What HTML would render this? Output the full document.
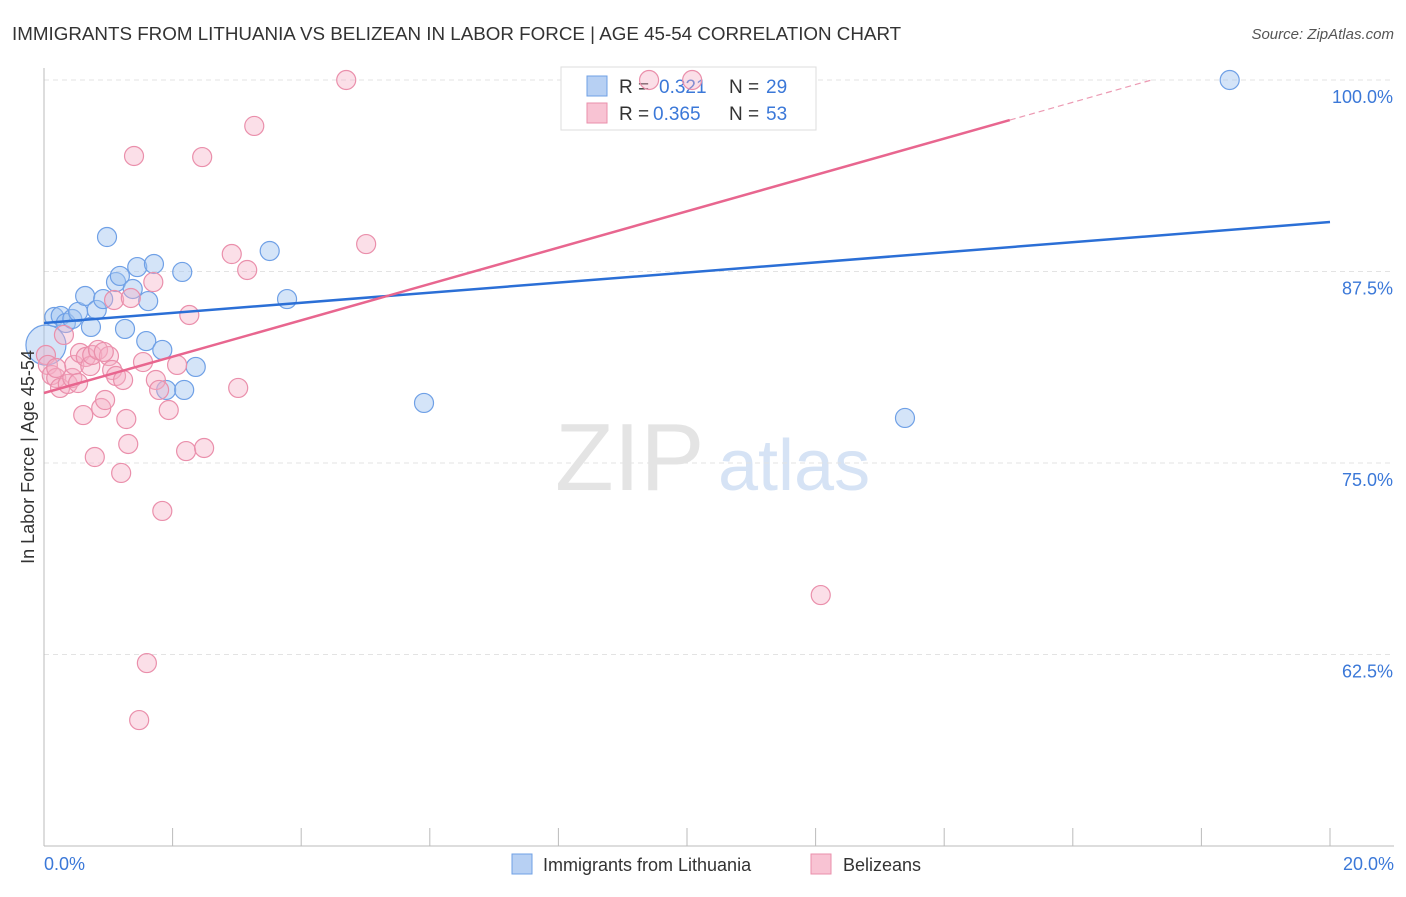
<!DOCTYPE html>
<html><head><meta charset="utf-8"><style>
body{margin:0;background:#fff;font-family:"Liberation Sans",sans-serif;}
svg text{font-family:"Liberation Sans",sans-serif;}
</style></head><body>
<svg id="chart" width="1406" height="892">
<text x="12" y="40" font-size="18.8" fill="#333">IMMIGRANTS FROM LITHUANIA VS BELIZEAN IN LABOR FORCE | AGE 45-54 CORRELATION CHART</text>
<text x="1394" y="39" font-size="15" fill="#555" text-anchor="end" font-style="italic">Source: ZipAtlas.com</text>
<text x="555" y="490" font-size="96" fill="#e4e4e4" font-family="Liberation Serif">ZIP</text>
<text x="718" y="490" font-size="72" fill="#d6e3f5">atlas</text>
<g id="grid"></g><g id="axes"></g>
<g>
<rect x="561" y="67" width="255" height="63" fill="#fff" stroke="#ddd"/>
<rect x="587" y="76" width="20" height="20" fill="#b7d0f3" stroke="#6fa0e6"/>
<rect x="587" y="103" width="20" height="20" fill="#f8c3d3" stroke="#ea8fab"/>
<text x="619" y="93" font-size="19" fill="#333">R =</text>
<text x="659" y="93" font-size="19" fill="#3b78d8">0.321</text>
<text x="729" y="93" font-size="19" fill="#333">N =</text>
<text x="766" y="93" font-size="19" fill="#3b78d8">29</text>
<text x="619" y="120" font-size="19" fill="#333">R =</text>
<text x="653" y="120" font-size="19" fill="#3b78d8">0.365</text>
<text x="729" y="120" font-size="19" fill="#333">N =</text>
<text x="766" y="120" font-size="19" fill="#3b78d8">53</text>
</g>
<g id="marks"></g><g id="lines"></g>
<text transform="translate(34,457) rotate(-90)" font-size="18" fill="#333" text-anchor="middle">In Labor Force | Age 45-54</text>
<text x="44" y="870" font-size="18" fill="#3b78d8">0.0%</text>
<text x="1394" y="870" font-size="18" fill="#3b78d8" text-anchor="end">20.0%</text>
<g>
<rect x="512" y="854" width="20" height="20" fill="#b7d0f3" stroke="#6fa0e6"/>
<text x="543" y="871" font-size="18" fill="#333">Immigrants from Lithuania</text>
<rect x="811" y="854" width="20" height="20" fill="#f8c3d3" stroke="#ea8fab"/>
<text x="843" y="871" font-size="18" fill="#333">Belizeans</text>
</g>
</svg>
<script>
const yTicks=[100,87.5,75,62.5];
const yTickLabels=["100.0%","87.5%","75.0%","62.5%"];
const xTicks=[0,2,4,6,8,10,12,14,16,18,20];
const blueX=[0.16,0.26,0.34,0.44,0.53,0.64,0.73,0.82,0.92,0.98,1.12,1.18,1.26,1.38,1.45,1.59,1.62,1.71,1.84,1.90,2.15,2.18,2.36,3.51,3.78,5.91,13.39,18.44,0.03];
const blueY=[84.53,84.60,84.14,84.40,84.86,85.90,83.88,84.99,85.70,89.75,86.81,87.21,83.75,86.36,87.79,82.96,85.57,87.99,82.38,79.77,87.47,79.77,81.27,88.84,85.70,78.92,77.94,100,82.70];
const pinkX=[0.03,0.06,0.12,0.19,0.25,0.31,0.37,0.44,0.47,0.53,0.56,0.61,0.65,0.72,0.75,0.79,0.84,0.89,0.95,1.01,1.06,1.09,1.12,1.20,1.23,1.28,1.31,1.35,1.40,1.54,1.60,1.48,1.70,1.74,1.79,1.84,1.94,2.07,2.21,2.26,2.46,2.49,2.92,3.02,3.16,3.27,4.70,5.01,9.41,10.08,12.08,0.19,0.93];
const pinkY=[82.05,81.40,80.74,80.55,79.90,83.36,80.16,80.55,81.40,80.22,82.18,78.13,81.92,81.33,82.05,75.39,82.38,78.59,79.11,81.98,81.07,85.64,80.68,74.35,80.42,77.87,76.24,85.77,95.04,81.59,61.94,58.22,86.81,80.42,79.77,71.87,78.46,81.40,75.78,84.66,94.97,75.98,88.64,79.90,87.60,97.00,100,89.29,100,100,66.38,81.20,82.25];
const blueFit=[84.14,90.73];   // y at x=0, x=20
const pinkFit=[79.57,1.186];   // intercept, slope
const X=v=>44+v/20*1286;
const Y=v=>80+(100-v)/12.5*191.5;
const NS="http://www.w3.org/2000/svg";
function mk(tag,attrs,parent){const e=document.createElementNS(NS,tag);for(const k in attrs)e.setAttribute(k,attrs[k]);document.getElementById(parent).appendChild(e);return e;}
yTicks.forEach((t,i)=>{
  const g=mk('line',{x1:44,x2:1394,y1:Y(t),y2:Y(t),stroke:'#e3e3e3','stroke-dasharray':'5,4'},'grid');
  
  
  const tx=mk('text',{x:1393,y:Y(t)+23,'font-size':18,fill:'#3b78d8','text-anchor':'end'},'grid');
  tx.textContent=yTickLabels[i];
  
  
});
const ax=mk('line',{x1:44,x2:44,y1:68,y2:846,stroke:'#bbb'},'axes');


const bx=mk('line',{x1:44,x2:1394,y1:846,y2:846,stroke:'#bbb'},'axes');


xTicks.forEach(t=>{
  const l=mk('line',{x1:X(t),x2:X(t),y1:828,y2:846,stroke:'#bbb'},'axes');
  
  
});
blueX.forEach((x,i)=>{
  const big=i===blueX.length-1;
  const c=mk('circle',{cx:X(x),cy:Y(blueY[i]),r:big?20:9.5,fill:'rgba(160,196,240,0.45)',stroke:'#6fa0e6','stroke-width':1.2},'marks');
  
  
});
pinkX.forEach((x,i)=>{
  const c=mk('circle',{cx:X(x),cy:Y(pinkY[i]),r:9.5,fill:'rgba(246,176,198,0.4)',stroke:'#ea8fab','stroke-width':1.2},'marks');
  
  
});
const bl=mk('line',{x1:X(0),y1:Y(blueFit[0]),x2:X(20),y2:Y(blueFit[1]),stroke:'#2b6fd6','stroke-width':2.5},'lines');


const xs=15.02, xe=(100-pinkFit[0])/pinkFit[1];
const pl=mk('line',{x1:X(0),y1:Y(pinkFit[0]),x2:X(xs),y2:Y(pinkFit[0]+pinkFit[1]*xs),stroke:'#e8668f','stroke-width':2.5},'lines');


const pd=mk('line',{x1:X(xs),y1:Y(pinkFit[0]+pinkFit[1]*xs),x2:X(xe),y2:Y(100),stroke:'#ec9ab3','stroke-width':1.2,'stroke-dasharray':'6,4'},'lines');


</script>
</body></html>
